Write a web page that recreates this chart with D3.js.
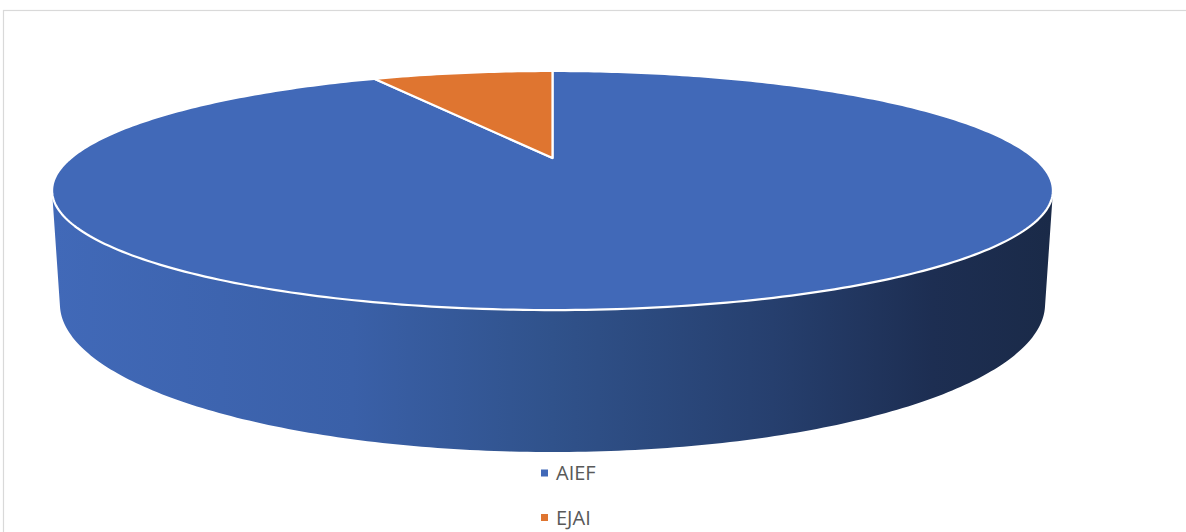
<!DOCTYPE html>
<html>
<head>
<meta charset="utf-8">
<script src="https://cdn.jsdelivr.net/npm/d3@7"></script>
<style>
  html, body { margin: 0; padding: 0; background: #fff; }
  svg { display: block; }
</style>
</head>
<body>
<svg id="chart" width="1186" height="532"></svg>
<script>
// ---- data ----
const categories = ["AIEF", "EJAI"];
const values = [92.4, 7.6];
const colors = ["#4169B8", "#DF7530"];

(function () {
// ---- layout ----
const svg = d3.select("#chart");

svg.append("rect")
  .attr("x", 3.5).attr("y", 10.5)
  .attr("width", 1300).attr("height", 700)
  .attr("fill", "none").attr("stroke", "#d9d9d9").attr("stroke-width", 1.2);

// perspective camera parameters
const cx = 552.5, cy = 158;
const sinA = 0.2299, cosA = Math.sqrt(1 - sinA * sinA);
const D0 = 3.578, F = 1723, hgt = 0.2298;
const Lc = D0 * cosA;

function project(theta, Y) {
  const u = Math.sin(theta), v = Math.cos(theta);
  const depth = D0 + v * cosA - Y * sinA;
  const camY = v * sinA + Y * cosA;
  return [cx + F * u / depth, cy - F * camY / depth];
}
const center = [cx, cy];

const pie = d3.pie().sort(null).value(d => d)(values);

const defs = svg.append("defs");
const grad = defs.append("linearGradient")
  .attr("id", "sideGrad")
  .attr("gradientUnits", "userSpaceOnUse")
  .attr("x1", 52).attr("x2", 1053).attr("y1", 0).attr("y2", 0);
[[0, "#4169B8"], [0.3, "#3a60a8"], [0.5, "#30528b"], [0.72, "#263f6e"], [0.88, "#1d2e52"], [1, "#1a2a48"]]
  .forEach(([o, c]) => grad.append("stop").attr("offset", o).attr("stop-color", c));

// side wall (front half between silhouettes)
const thSil = Math.acos(-1 / Lc);
const N = 200;
const sidePts = [];
for (let i = 0; i <= N; i++) {
  const t = thSil + (2 * Math.PI - 2 * thSil) * i / N;
  sidePts.push(project(t, 0));
}
for (let i = N; i >= 0; i--) {
  const t = thSil + (2 * Math.PI - 2 * thSil) * i / N;
  sidePts.push(project(t, -hgt));
}
svg.append("path")
  .attr("d", d3.line()(sidePts) + "Z")
  .attr("fill", "url(#sideGrad)");

// top face slices
const topG = svg.append("g");
pie.forEach((s, i) => {
  const pts = [center];
  const n = Math.max(4, Math.ceil((s.endAngle - s.startAngle) / (2 * Math.PI) * 400));
  for (let k = 0; k <= n; k++) {
    const t = s.startAngle + (s.endAngle - s.startAngle) * k / n;
    pts.push(project(t, 0));
  }
  topG.append("path")
    .attr("d", d3.line()(pts) + "Z")
    .attr("fill", colors[i])
    .attr("stroke", "#ffffff")
    .attr("stroke-width", 2.2)
    .attr("stroke-linejoin", "round");
});

// legend
const legend = svg.append("g");
categories.forEach((c, i) => {
  const y = 473 + i * 44.5;
  legend.append("rect")
    .attr("x", 541).attr("y", y - 3.5)
    .attr("width", 7).attr("height", 7)
    .attr("fill", colors[i]);
  legend.append("text")
    .attr("x", 556).attr("y", y + 7)
    .attr("font-family", "'Open Sans', 'Segoe UI', sans-serif")
    .attr("font-size", 20)
    .attr("fill", "#595959")
    .text(c);
});
})();
</script>
</body>
</html>
